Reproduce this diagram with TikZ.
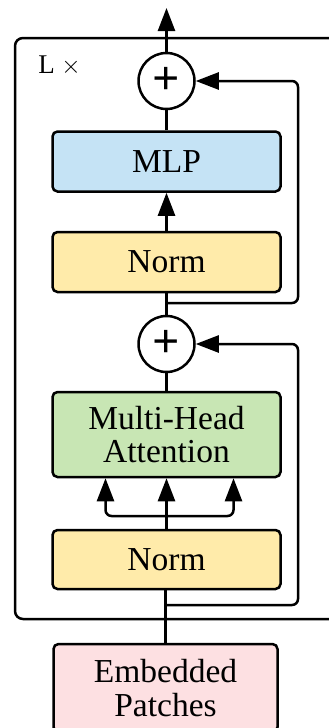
\documentclass[tikz,border=0pt]{standalone}
\usepackage{fontspec}
\setmainfont{Liberation Serif}
\usetikzlibrary{arrows.meta, positioning}
\definecolor{mlpblue}{RGB}{197,227,245}
\definecolor{normyellow}{RGB}{255,235,170}
\definecolor{attgreen}{RGB}{200,230,180}
\definecolor{embpink}{RGB}{253,224,226}
\tikzset{
    block/.style ={draw, rounded corners=5pt, minimum width=228pt, align=center,
                   font=\fontsize{33.5}{33.5}\selectfont},
    addop/.style = {circle, draw, fill=white, minimum size=56pt, inner sep=0pt,
                    font=\fontsize{48}{48}\selectfont\bfseries, node contents={+}},
    arr/.style = {-{Triangle[length=23pt,width=17pt]}},
    skip/.style = {arr, rounded corners=6pt}
}
\begin{document}
\begin{tikzpicture}
  [x=1pt,y=-1pt,line width=2.5pt]
  \clip (0,0) rectangle (329,728);

  % repeated layer
  \draw[rounded corners=8pt] (15,38) rectangle (350,619);
  \node[font=\fontsize{27}{27}\selectfont, anchor=base west, inner sep=0pt] (times) at (37,73) {L $\times$};

  \node (plus1) at (166.5,81) [addop];
  \node[block, fill=mlpblue, minimum height=60pt] (mlp) at (166.5,161.5) {MLP};
  \node[block, fill=normyellow, minimum height=60pt] (norm1) at (166.5,262) {Norm};
  \node (plus2) at (166.5,344) [addop];
  \node[block, fill=attgreen, minimum height=85pt] (mha) at (166.5,434.5) {Multi-Head\\Attention};
  \node[block, fill=normyellow, minimum height=59pt] (norm2) at (166.5,559.5) {Norm};
  \node[block, fill=embpink, minimum width=224pt, minimum height=88pt] (emb) at (165.5,688) {Embedded\\Patches};

  \coordinate (out) at (166.5,8);
  \coordinate (fork) at (166.5,516);
  \coordinate (res1) at (166.5,605);
  \coordinate (res2) at (166.5,303);

  \draw (emb.north) -- (emb.north |- norm2.south);
  \draw[arr] (norm2) -- (mha);
  \draw[skip] (fork) -| ([xshift=-61pt]mha.south);
  \draw[skip] (fork) -| ([xshift=67pt]mha.south);
  \draw (mha) -- (plus2);
  \draw (plus2) -- (norm1);
  \draw[arr] (norm1) -- (mlp);
  \draw (mlp) -- (plus1);
  \draw[arr] (plus1) -- (out);

  \draw[skip] (res1) -- ++(131.5,0) |- (plus2);
  \draw[skip] (res2) -- ++(131.5,0) |- (plus1);
\end{tikzpicture}
\end{document}
